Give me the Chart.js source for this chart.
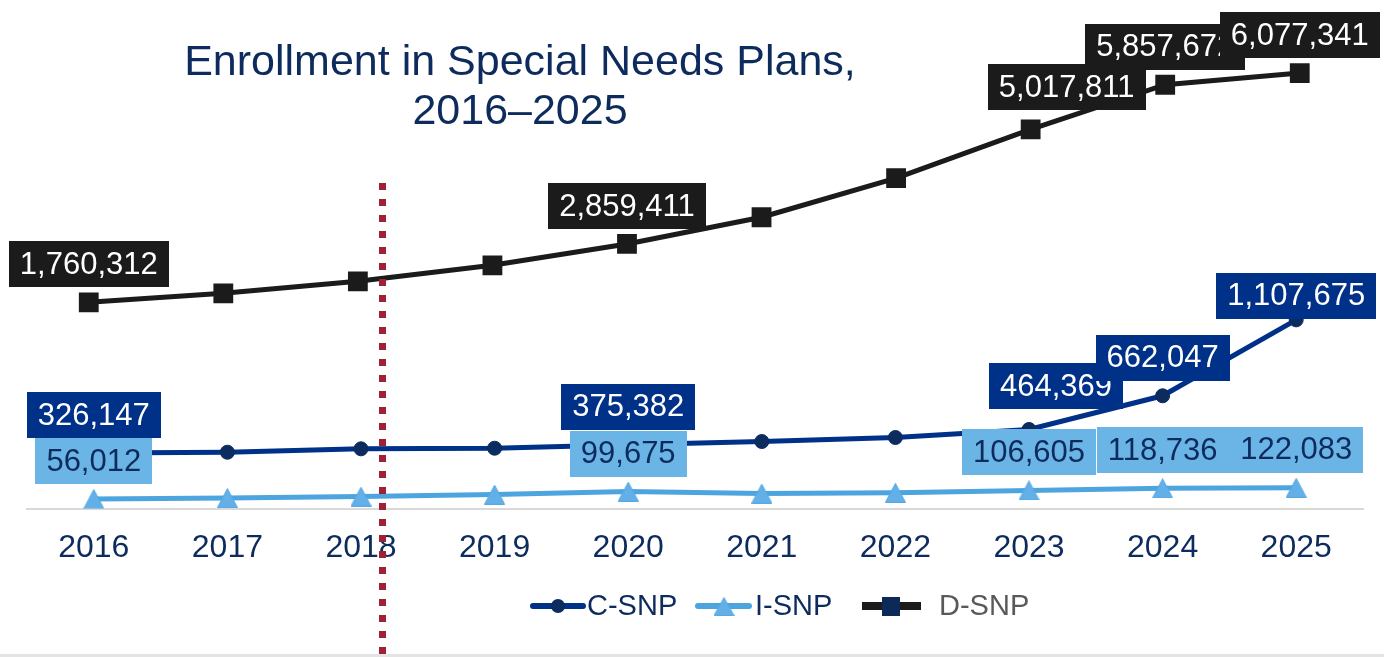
<!DOCTYPE html>
<html>
<head>
<meta charset="utf-8">
<title>Enrollment in Special Needs Plans, 2016–2025</title>
<script src="https://cdn.jsdelivr.net/npm/chart.js@4.4.0/dist/chart.umd.min.js"></script>
<style>
  html, body { margin: 0; padding: 0; background: #fff; }
  #wrap { width: 1384px; height: 657px; }
</style>
</head>
<body>
<div id="wrap"><canvas id="snp" width="1384" height="657"></canvas></div>
<script>
// Data
const years = ['2016', '2017', '2018', '2019', '2020', '2021', '2022', '2023', '2024', '2025'];
const cSnp = [326147, 330800, 350800, 354300, 375382, 393700, 417200, 464369, 662047, 1107675];
const iSnp = [56012, 61700, 70500, 82300, 99675, 88000, 93000, 106605, 118736, 122083];
const dSnp = [1760312, 1930000, 2156200, 2457800, 2859411, 3362700, 4098000, 5017811, 5857672, 6077341];
const labelledYears = ['2016', '2020', '2023', '2024', '2025'];
const titleLines = ['Enrollment in Special Needs Plans,', '2016–2025'];

const FONT = '"Liberation Sans", Arial, Helvetica, sans-serif';
const NAVY_TEXT = '#0d2b5c';
const C_LINE = '#003189';
const C_POINT = '#0c2b5e';
const I_LINE = '#4da5e0';
const I_POINT = '#63b0e8';
const I_BOX = '#6bb4e6';
const D_LINE = '#1b1b1b';
const D_LEGEND_POINT = '#0b2a5a';
const POLICY_RED = '#9e2236';

// Triangle marker, centred on its bounding box
function triangleMarker(w, h, fill, stroke) {
  const c = document.createElement('canvas');
  c.width = w;
  c.height = h;
  const g = c.getContext('2d');
  g.beginPath();
  g.moveTo(w / 2, 0.5);
  g.lineTo(w - 0.5, h - 0.5);
  g.lineTo(0.5, h - 0.5);
  g.closePath();
  g.fillStyle = fill;
  g.fill();
  g.strokeStyle = stroke;
  g.lineWidth = 1;
  g.stroke();
  return c;
}
const triangle = triangleMarker(21, 20, I_POINT, '#58a8e2');

// Value boxes: colours per series, nudges for crowded points
const boxStyles = {
  'C-SNP': { fill: C_LINE, text: '#ffffff' },
  'I-SNP': { fill: I_BOX, text: NAVY_TEXT },
  'D-SNP': { fill: D_LINE, text: '#ffffff' },
};
const boxNudge = {
  'D-SNP:2023': { dx: 36, dy: -42 },
  'C-SNP:2023': { dx: 27, dy: -43 },
  'C-SNP:2025': { dx: 0, dy: -24 },
};
const BOX_DY = -38;
const BOX_H = 46;
const BOX_PAD = 11;

const valueBoxes = {
  id: 'valueBoxes',
  afterDatasetsDraw(chart) {
    const ctx = chart.ctx;
    ctx.save();
    ctx.font = '31px ' + FONT;
    ctx.textAlign = 'center';
    ctx.textBaseline = 'middle';
    // D first, then C, then I so the lower boxes overlap correctly
    [2, 0, 1].forEach(di => {
      const ds = chart.data.datasets[di];
      const meta = chart.getDatasetMeta(di);
      const style = boxStyles[ds.label];
      years.forEach((yr, i) => {
        if (!labelledYears.includes(yr)) return;
        const pt = meta.data[i];
        const raw = ds.data[i];
        const v = typeof raw === 'object' ? raw.y : raw;
        const txt = v.toLocaleString('en-US');
        const nudge = boxNudge[ds.label + ':' + yr] || { dx: 0, dy: BOX_DY };
        const cx = pt.x + nudge.dx;
        const cy = pt.y + nudge.dy;
        const w = ctx.measureText(txt).width + BOX_PAD * 2;
        ctx.fillStyle = style.fill;
        ctx.fillRect(Math.round(cx - w / 2), Math.round(cy - BOX_H / 2), Math.round(w), BOX_H);
        ctx.fillStyle = style.text;
        ctx.fillText(txt, cx, cy + 1);
      });
    });
    ctx.restore();
  }
};

// Background, bottom rule, title, legend and the dotted marker line
const decorations = {
  id: 'decorations',
  beforeDraw(chart) {
    const ctx = chart.ctx;
    ctx.save();
    ctx.fillStyle = '#ffffff';
    ctx.fillRect(0, 0, chart.width, chart.height);
    ctx.fillStyle = '#e4e4e4';
    ctx.fillRect(0, chart.height - 3, chart.width, 3);
    ctx.restore();
  },
  afterDraw(chart) {
    const ctx = chart.ctx;
    ctx.save();

    // title
    ctx.fillStyle = NAVY_TEXT;
    ctx.font = '43px ' + FONT;
    ctx.textAlign = 'center';
    ctx.textBaseline = 'alphabetic';
    ctx.fillText(titleLines[0], 520, 75);
    ctx.fillText(titleLines[1], 520, 124);

    // legend
    const legendY = 606;
    const items = [
      { ds: 0, x0: 533, x1: 583, mark: 558, tx: 587, lw: 6, color: NAVY_TEXT },
      { ds: 1, x0: 698, x1: 749, mark: 724, tx: 755, lw: 6, color: NAVY_TEXT },
      { ds: 2, x0: 862, x1: 921, mark: 891, tx: 939, lw: 8, color: '#595959' },
    ];
    ctx.font = '29px ' + FONT;
    ctx.textAlign = 'left';
    ctx.textBaseline = 'middle';
    items.forEach(it => {
      const ds = chart.data.datasets[it.ds];
      ctx.strokeStyle = ds.borderColor;
      ctx.lineWidth = it.lw;
      ctx.lineCap = it.ds === 2 ? 'butt' : 'round';
      ctx.beginPath();
      ctx.moveTo(it.x0, legendY);
      ctx.lineTo(it.x1, legendY);
      ctx.stroke();
      if (it.ds === 0) {
        ctx.fillStyle = C_POINT;
        ctx.beginPath();
        ctx.arc(it.mark, legendY, 7, 0, Math.PI * 2);
        ctx.fill();
      } else if (it.ds === 1) {
        ctx.drawImage(triangle, it.mark - 10.5, legendY - 9, 21, 19);
      } else {
        ctx.fillStyle = D_LEGEND_POINT;
        ctx.fillRect(it.mark - 9, legendY - 9, 18, 19);
      }
      ctx.fillStyle = it.color;
      ctx.fillText(ds.label, it.tx, legendY + 1);
    });

    // dotted marker just past 2018
    const xs = chart.scales.x;
    const x18 = xs.getPixelForTick(2);
    const step = xs.getPixelForTick(3) - x18;
    const lx = Math.round(x18 + step * 0.155) + 0.5;
    ctx.strokeStyle = POLICY_RED;
    ctx.lineWidth = 7;
    ctx.lineCap = 'butt';
    ctx.setLineDash([7, 9]);
    ctx.beginPath();
    ctx.moveTo(lx, 183);
    ctx.lineTo(lx, chart.height - 3);
    ctx.stroke();

    ctx.restore();
  }
};

new Chart(document.getElementById('snp'), {
  type: 'line',
  data: {
    labels: years,
    datasets: [
      {
        label: 'C-SNP',
        data: cSnp,
        xAxisID: 'x',
        yAxisID: 'y',
        borderColor: C_LINE,
        borderWidth: 5,
        pointStyle: 'circle',
        pointRadius: 7,
        pointBackgroundColor: C_POINT,
        pointBorderColor: C_POINT,
        pointBorderWidth: 1,
        tension: 0,
      },
      {
        label: 'I-SNP',
        data: iSnp,
        xAxisID: 'x',
        yAxisID: 'y',
        borderColor: I_LINE,
        borderWidth: 5,
        pointStyle: triangle,
        pointRadius: 10,
        tension: 0,
      },
      {
        label: 'D-SNP',
        data: dSnp.map((v, i) => ({ x: i, y: v })),
        xAxisID: 'x2',
        yAxisID: 'y2',
        borderColor: D_LINE,
        borderWidth: 5,
        pointStyle: 'rect',
        pointRadius: 14,
        pointBackgroundColor: D_LINE,
        pointBorderWidth: 0,
        tension: 0,
      },
    ],
  },
  options: {
    responsive: false,
    animation: false,
    events: [],
    layout: { padding: { top: 20, left: 27, right: 21, bottom: 70 } },
    plugins: {
      legend: { display: false },
      title: { display: false },
      tooltip: { enabled: false },
    },
    scales: {
      x: {
        type: 'category',
        offset: true,
        grid: { display: false, drawTicks: false },
        border: { display: true, color: '#d9d9d9', width: 2 },
        ticks: { color: NAVY_TEXT, font: { family: FONT, size: 32 }, padding: 20, maxRotation: 0, autoSkip: false },
      },
      x2: { type: 'linear', display: false, min: -0.459, max: 9.47 },
      y: { display: false, min: 0, max: 2867500 },
      y2: { display: false, min: -2123200, max: 7076600 },
    },
  },
  plugins: [decorations, valueBoxes],
});
</script>
</body>
</html>
